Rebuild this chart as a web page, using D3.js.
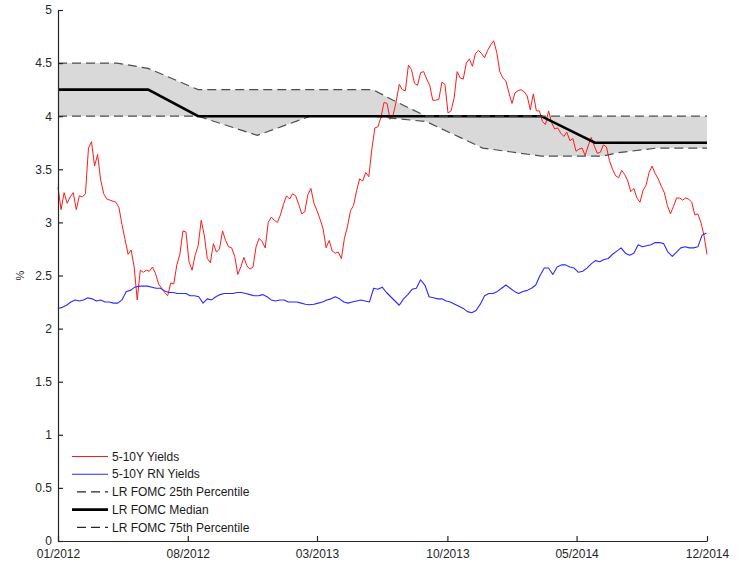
<!DOCTYPE html>
<html>
<head>
<meta charset="utf-8">
<script src="https://cdn.jsdelivr.net/npm/d3@7"></script>
<style>
  html, body { margin: 0; padding: 0; background: #fff; }
  svg { display: block; }
  text { font-family: "Liberation Sans", Arial, Helvetica, sans-serif; }
</style>
</head>
<body>
<svg id="chart" width="744" height="566"></svg>
<script>
// ---- data ----------------------------------------------------------------
// 5-10Y forward yields, one observation every 5 days from 1 Jan 2012 (%)
const yieldStart = "2012-01-01";
const yieldStepDays = 5;
const yields = [
  3.33, 3.12, 3.28, 3.18, 3.24, 3.28, 3.12, 3.25, 3.24, 3.27,
  3.70, 3.76, 3.53, 3.64, 3.40, 3.27, 3.22, 3.21, 3.20, 3.19,
  3.14, 2.98, 2.84, 2.70, 2.74, 2.58, 2.27, 2.55, 2.53, 2.55,
  2.54, 2.58, 2.52, 2.42, 2.38, 2.34, 2.31, 2.43, 2.42, 2.60,
  2.70, 2.92, 2.91, 2.63, 2.55, 2.69, 2.78, 3.02, 2.88, 2.66,
  2.62, 2.80, 2.72, 2.75, 2.92, 2.83, 2.77, 2.76, 2.68, 2.51,
  2.58, 2.67, 2.59, 2.56, 2.58, 2.77, 2.85, 2.82, 2.76, 3.00,
  3.05, 3.02, 3.00, 3.07, 3.17, 3.25, 3.22, 3.27, 3.25, 3.17,
  3.08, 3.10, 3.26, 3.32, 3.18, 3.11, 3.03, 2.94, 2.76, 2.83,
  2.73, 2.71, 2.72, 2.66, 2.85, 2.96, 3.11, 3.16, 3.30, 3.41,
  3.39, 3.47, 3.43, 3.69, 3.89, 3.90, 3.99, 4.13, 4.12, 3.97,
  4.01, 4.14, 4.30, 4.25, 4.24, 4.48, 4.44, 4.31, 4.29, 4.41,
  4.42, 4.35, 4.29, 4.15, 4.15, 4.16, 4.32, 4.30, 4.03, 4.05,
  4.17, 4.42, 4.36, 4.35, 4.50, 4.54, 4.47, 4.59, 4.62, 4.59,
  4.55, 4.62, 4.67, 4.71, 4.60, 4.42, 4.36, 4.33, 4.22, 4.12,
  4.22, 4.24, 4.25, 4.23, 4.19, 4.06, 4.21, 4.05, 4.05, 3.95,
  3.92, 4.05, 3.94, 3.88, 3.89, 3.84, 3.81, 3.85, 3.77, 3.79,
  3.67, 3.69, 3.70, 3.63, 3.72, 3.80, 3.72, 3.65, 3.66, 3.73,
  3.71, 3.58, 3.50, 3.44, 3.42, 3.49, 3.45, 3.39, 3.29, 3.32,
  3.23, 3.19, 3.30, 3.35, 3.47, 3.53, 3.46, 3.41, 3.34, 3.28,
  3.16, 3.08, 3.15, 3.23, 3.23, 3.21, 3.23, 3.22, 3.19, 3.07,
  3.08, 3.00, 2.88, 2.70
];

// 5-10Y risk-neutral yields, weekly from 1 Jan 2012 (%)
const rnStart = "2012-01-01";
const rnStepDays = 7;
const rnYields = [
  2.19, 2.20, 2.22, 2.25, 2.27, 2.26, 2.27, 2.29, 2.28, 2.26,
  2.27, 2.25, 2.25, 2.24, 2.24, 2.27, 2.35, 2.36, 2.39, 2.40,
  2.40, 2.40, 2.39, 2.38, 2.38, 2.355, 2.34, 2.34, 2.33, 2.33,
  2.33, 2.31, 2.31, 2.30, 2.24, 2.28, 2.27, 2.30, 2.32, 2.33,
  2.33, 2.33, 2.34, 2.34, 2.33, 2.32, 2.31, 2.31, 2.32, 2.30,
  2.27, 2.26, 2.27, 2.27, 2.25, 2.25, 2.25, 2.24, 2.23, 2.225,
  2.23, 2.24, 2.25, 2.27, 2.28, 2.30, 2.28, 2.25, 2.24, 2.25,
  2.26, 2.27, 2.26, 2.25, 2.38, 2.37, 2.39, 2.34, 2.30, 2.26,
  2.22, 2.28, 2.32, 2.37, 2.38, 2.46, 2.41, 2.30, 2.29, 2.28,
  2.28, 2.26, 2.25, 2.23, 2.21, 2.19, 2.16, 2.15, 2.17, 2.23,
  2.31, 2.33, 2.33, 2.35, 2.38, 2.41, 2.38, 2.35, 2.33, 2.35,
  2.36, 2.38, 2.41, 2.50, 2.57, 2.57, 2.51, 2.58, 2.60, 2.60,
  2.58, 2.57, 2.53, 2.54, 2.57, 2.61, 2.64, 2.63, 2.65, 2.66,
  2.70, 2.73, 2.76, 2.71, 2.69, 2.71, 2.79, 2.77, 2.78, 2.79,
  2.81, 2.81, 2.80, 2.72, 2.68, 2.72, 2.76, 2.77, 2.76, 2.76,
  2.77, 2.88, 2.90
];

// Longer-run FOMC projections: dates where the profile changes slope
const fomcDates = [
  "2012-01-01", "2012-04-07", "2012-05-28", "2012-08-18", "2012-11-23",
  "2013-02-18", "2013-06-01", "2013-07-04", "2013-08-27", "2013-11-28",
  "2014-03-04", "2014-05-31", "2014-06-13", "2014-07-06", "2014-09-10",
  "2014-12-01"
];
const fomcP25 = [
  4.00, 4.00, 4.00, 4.00, 3.82, 4.00, 4.00, 3.98, 3.95, 3.70,
  3.625, 3.625, 3.625, 3.655, 3.70, 3.70
];
const fomcMedian = [
  4.25, 4.25, 4.25, 4.00, 4.00, 4.00, 4.00, 4.00, 4.00, 4.00,
  4.00, 3.75, 3.75, 3.75, 3.75, 3.75
];
const fomcP75 = [
  4.50, 4.50, 4.45, 4.25, 4.25, 4.25, 4.25, 4.15, 4.00, 4.00,
  4.00, 4.00, 4.00, 4.00, 4.00, 4.00
];

const xTickDates = ["2012-01-01", "2012-08-01", "2013-03-01", "2013-10-01", "2014-05-01", "2014-12-01"];
const yTicks = [0, 0.5, 1, 1.5, 2, 2.5, 3, 3.5, 4, 4.5, 5];
const legendLabels = [
  "5-10Y Yields",
  "5-10Y RN Yields",
  "LR FOMC 25th Percentile",
  "LR FOMC Median",
  "LR FOMC 75th Percentile"
];

// ---- build records -----------------------------------------------------------
const parse = d3.timeParse("%Y-%m-%d");
const yieldSeries = yields.map((v, i) => ({ date: d3.timeDay.offset(parse(yieldStart), i * yieldStepDays), value: v }));
const rnSeries = rnYields.map((v, i) => ({ date: d3.timeDay.offset(parse(rnStart), i * rnStepDays), value: v }));
const fomc = fomcDates.map((d, i) => ({ date: parse(d), p25: fomcP25[i], med: fomcMedian[i], p75: fomcP75[i] }));

// ---- layout & scales -----------------------------------------------------------
const svg = d3.select("#chart");
const plot = { left: 58, right: 707, top: 10, bottom: 541 };

const x = d3.scaleTime()
  .domain([parse("2012-01-01"), parse("2014-12-01")])
  .range([plot.left, plot.right]);
const y = d3.scaleLinear()
  .domain([0, 5])
  .range([plot.bottom, plot.top]);

const g = svg.append("g");

// shaded interquartile band of the FOMC longer-run projections
g.append("path")
  .datum(fomc)
  .attr("fill", "#d9d9d9")
  .attr("stroke", "none")
  .attr("d", d3.area().x(d => x(d.date)).y0(d => y(d.p25)).y1(d => y(d.p75)));

const lineOf = key => d3.line().x(d => x(d.date)).y(d => y(d[key]));

// yield series
g.append("path")
  .datum(yieldSeries)
  .attr("fill", "none")
  .attr("stroke", "#ff1a1a")
  .attr("stroke-width", 1)
  .attr("stroke-linejoin", "round")
  .attr("d", lineOf("value"));

g.append("path")
  .datum(rnSeries)
  .attr("fill", "none")
  .attr("stroke", "#2b2bff")
  .attr("stroke-width", 1.1)
  .attr("stroke-linejoin", "round")
  .attr("d", lineOf("value"));

// FOMC percentile and median lines
const dashStyle = { stroke: "#4d4d4d", width: 1.2, dash: "9,5" };
g.append("path")
  .datum(fomc)
  .attr("fill", "none")
  .attr("stroke", dashStyle.stroke)
  .attr("stroke-width", dashStyle.width)
  .attr("stroke-dasharray", dashStyle.dash)
  .attr("d", lineOf("p25"));

g.append("path")
  .datum(fomc)
  .attr("fill", "none")
  .attr("stroke", "#000")
  .attr("stroke-width", 2.6)
  .attr("d", lineOf("med"));

g.append("path")
  .datum(fomc)
  .attr("fill", "none")
  .attr("stroke", dashStyle.stroke)
  .attr("stroke-width", dashStyle.width)
  .attr("stroke-dasharray", dashStyle.dash)
  .attr("d", lineOf("p75"));

// ---- axes (ticks point inwards) ---------------------------------------------------
const fmtDate = d3.timeFormat("%m/%Y");
const xAxis = d3.axisBottom(x)
  .tickValues(xTickDates.map(parse))
  .tickFormat(fmtDate)
  .tickSizeInner(-5)
  .tickSizeOuter(0)
  .tickPadding(6);
const yAxis = d3.axisLeft(y)
  .tickValues(yTicks)
  .tickFormat(d => String(d))
  .tickSizeInner(-5)
  .tickSizeOuter(0)
  .tickPadding(6);

const gx = svg.append("g").attr("transform", `translate(0,${plot.bottom})`).call(xAxis);
const gy = svg.append("g").attr("transform", `translate(${plot.left},0)`).call(yAxis);

[gx, gy].forEach(a => {
  a.select(".domain").attr("stroke", "#262626").attr("stroke-width", 1.2);
  a.selectAll(".tick line").attr("stroke", "#262626").attr("stroke-width", 1.2);
  a.selectAll(".tick text")
    .attr("fill", "#262626")
    .style("font-size", "12px")
    .style("font-family", "'Liberation Sans', Arial, sans-serif");
});
gx.selectAll(".tick text").attr("dy", "0.95em");

// y-axis title
svg.append("text")
  .attr("transform", `translate(24,${(plot.top + plot.bottom) / 2}) rotate(-90)`)
  .attr("text-anchor", "middle")
  .attr("fill", "#262626")
  .style("font-size", "11px")
  .text("%");

// ---- legend ------------------------------------------------------------------
const legendStyles = [
  { stroke: "#ff1a1a", width: 1, dash: null, x0: 72 },
  { stroke: "#2b2bff", width: 1.1, dash: null, x0: 72 },
  { stroke: "#262626", width: 1.2, dash: "9,5", x0: 77 },
  { stroke: "#000", width: 2.6, dash: null, x0: 72 },
  { stroke: "#262626", width: 1.2, dash: "9,5", x0: 77 }
];
const legend = svg.append("g");
legendLabels.forEach((label, i) => {
  const cy = 456.5 + i * 17.7;
  const s = legendStyles[i];
  legend.append("line")
    .attr("x1", s.x0).attr("x2", 108)
    .attr("y1", cy).attr("y2", cy)
    .attr("stroke", s.stroke)
    .attr("stroke-width", s.width)
    .attr("stroke-dasharray", s.dash);
  legend.append("text")
    .attr("x", 112)
    .attr("y", cy)
    .attr("dy", "0.35em")
    .attr("fill", "#1a1a1a")
    .style("font-size", "12px")
    .text(label);
});
</script>
</body>
</html>
